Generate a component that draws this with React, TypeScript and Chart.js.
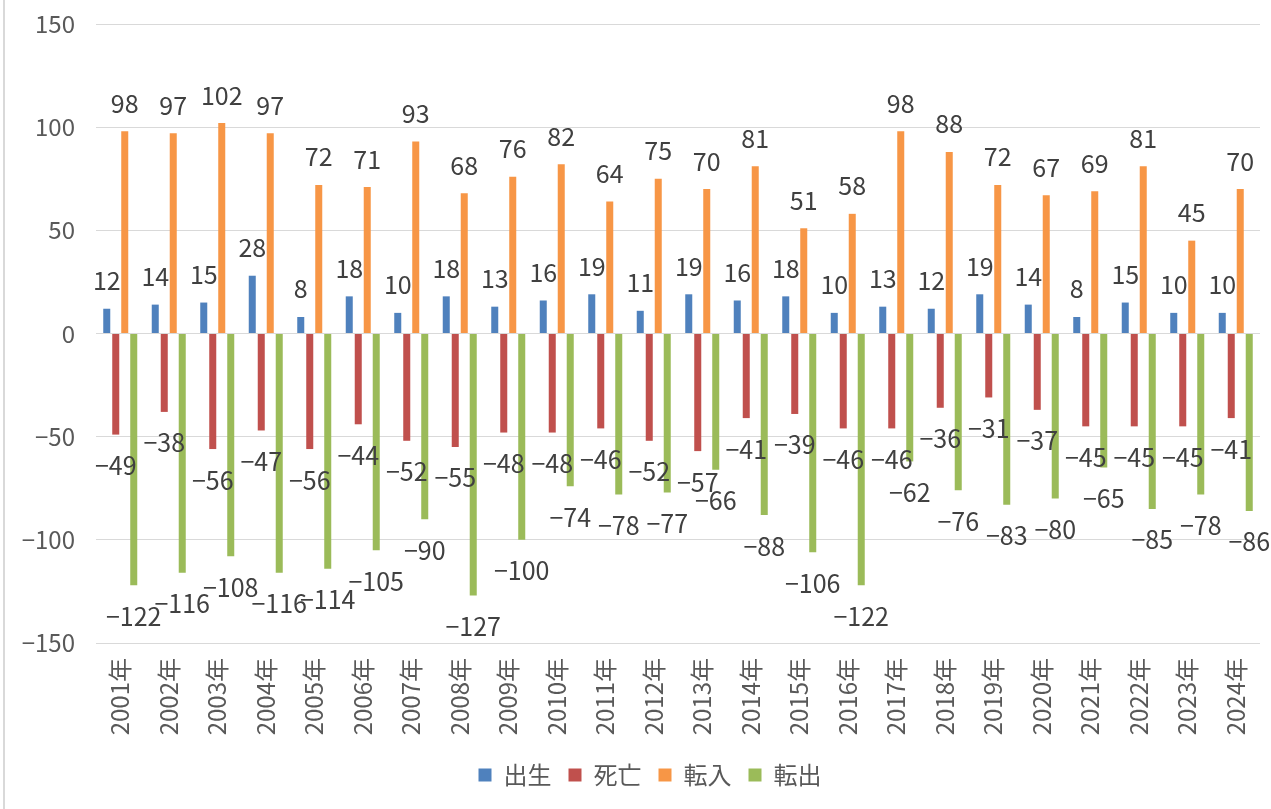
import React, { useEffect, useRef } from "react";
import { Chart, registerables } from "chart.js";

Chart.register(...registerables);

const years = [
  "2001年", "2002年", "2003年", "2004年", "2005年", "2006年", "2007年", "2008年",
  "2009年", "2010年", "2011年", "2012年", "2013年", "2014年", "2015年", "2016年",
  "2017年", "2018年", "2019年", "2020年", "2021年", "2022年", "2023年", "2024年",
];
const births = [12, 14, 15, 28, 8, 18, 10, 18, 13, 16, 19, 11, 19, 16, 18, 10, 13, 12, 19, 14, 8, 15, 10, 10];
const deaths = [-49, -38, -56, -47, -56, -44, -52, -55, -48, -48, -46, -52, -57, -41, -39, -46, -46, -36, -31, -37, -45, -45, -45, -41];
const movedIn = [98, 97, 102, 97, 72, 71, 93, 68, 76, 82, 64, 75, 70, 81, 51, 58, 98, 88, 72, 67, 69, 81, 45, 70];
const movedOut = [-122, -116, -108, -116, -114, -105, -90, -127, -100, -74, -78, -77, -66, -88, -106, -122, -62, -76, -83, -80, -65, -85, -78, -86];
const seriesNames = ["出生", "死亡", "転入", "転出"];
const seriesColors = ["#4f81bd", "#c0504d", "#f79646", "#9bbb59"];
const yMin = -150;
const yMax = 150;
const yStep = 50;

const FONT = "'Noto Sans CJK JP', 'Noto Sans', sans-serif";

const fmt = (v: number) => (v < 0 ? "\u2212" + Math.abs(v) : String(v));

const labelPlugin = {
  id: "barLabels",
  afterLayout(chart: any) {
    const lg = chart.legend;
    if (lg) {
      lg.left += 20;
      lg.right += 20;
    }
  },
  afterDatasetsDraw(chart: any) {
    const ctx = chart.ctx;
    ctx.save();
    ctx.font = `25px ${FONT}`;
    ctx.fillStyle = "#404040";
    ctx.textAlign = "center";
    ctx.textBaseline = "middle";
    chart.data.datasets.forEach((ds: any, i: number) => {
      const meta = chart.getDatasetMeta(i);
      meta.data.forEach((el: any, j: number) => {
        const v = ds.data[j] as number;
        const y = v >= 0 ? el.y - 28 : el.y + 31;
        ctx.fillText(fmt(v), el.x, y);
      });
    });
    ctx.restore();
  },
};

export default function App() {
  const ref = useRef<HTMLCanvasElement | null>(null);
  useEffect(() => {
    if (!ref.current) return;
    const data = [births, deaths, movedIn, movedOut];
    const chart = new Chart(ref.current, {
      type: "bar",
      data: {
        labels: years,
        datasets: data.map((d, i) => ({
          label: seriesNames[i],
          data: d,
          backgroundColor: seriesColors[i],
          borderWidth: 0,
          categoryPercentage: 0.742,
          barPercentage: 0.78,
        })),
      },
      options: {
        animation: false,
        responsive: false,
        maintainAspectRatio: false,
        layout: { padding: { top: 24, right: 11, bottom: 12, left: 0 } },
        plugins: {
          legend: {
            position: "bottom",
            labels: {
              boxWidth: 13,
              boxHeight: 13,
              padding: 17,
              color: "#595959",
              font: { family: FONT, size: 24 },
            },
          },
          tooltip: { enabled: false },
        },
        scales: {
          x: {
            grid: { display: false, drawTicks: false },
            border: { display: false },
            ticks: {
              color: "#595959",
              font: { family: FONT, size: 24 },
              minRotation: 90,
              maxRotation: 90,
              padding: 15,
              autoSkip: false,
            },
            afterFit: (s: any) => {
              s.height = 103;
              s.paddingLeft = 0;
              s.paddingRight = 0;
            },
          },
          y: {
            min: yMin,
            max: yMax,
            grid: { color: "#d9d9d9", lineWidth: 1, drawTicks: false },
            border: { display: false },
            ticks: {
              stepSize: yStep,
              color: "#595959",
              font: { family: FONT, size: 24 },
              padding: 21,
              callback: (v: any) => fmt(Number(v)),
            },
            afterFit: (s: any) => {
              s.width = 96;
              s.paddingTop = 0;
              s.paddingBottom = 0;
            },
          },
        },
      },
      plugins: [labelPlugin],
    });
    return () => chart.destroy();
  }, []);
  return (
    <div style={{ position: "absolute", left: 0, top: 0, width: 1271, height: 809, background: "#fff" }}>
      <div style={{ position: "absolute", left: 3, top: 0, width: 2, height: 809, background: "#d9d9d9" }} />
      <canvas ref={ref} width={1271} height={809} style={{ position: "absolute", left: 0, top: 0 }} />
    </div>
  );
}
